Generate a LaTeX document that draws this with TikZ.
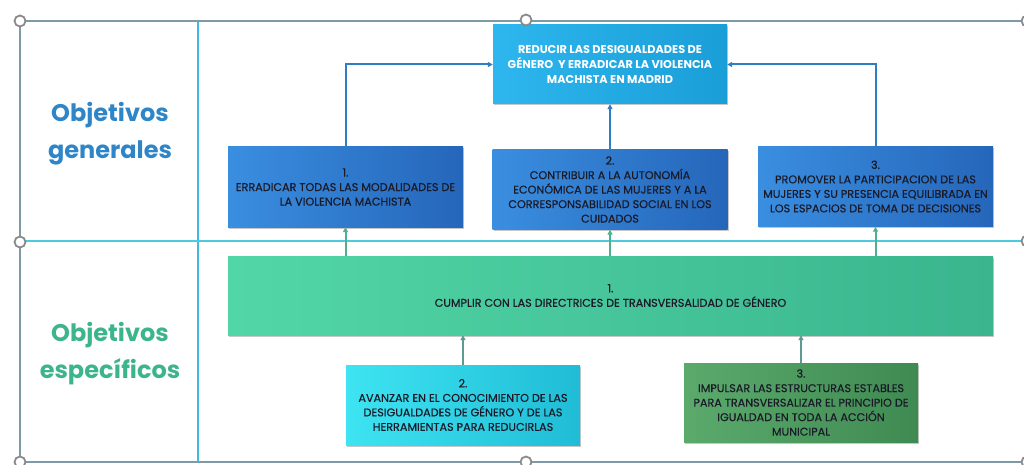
\documentclass[tikz,border=0pt]{standalone}
\usepackage{fontspec}
\setmainfont{Poppins}
\newfontfamily\boxfont[FakeBold=0.35]{Poppins}
\usetikzlibrary{arrows.meta,shadows,calc}
\definecolor{framegray}{HTML}{7E9AA6}
\definecolor{handlegray}{HTML}{8A8A8A}
\definecolor{sepblue}{HTML}{3FB8E4}
\definecolor{sepcyan}{HTML}{4CCBDD}
\definecolor{genlabel}{HTML}{2E86C8}
\definecolor{esplabel}{HTML}{3DB58C}
\definecolor{topL}{HTML}{2EB6EE}
\definecolor{topR}{HTML}{1A9ED8}
\definecolor{genL}{HTML}{3A8EE0}
\definecolor{genR}{HTML}{2566BA}
\definecolor{bigL}{HTML}{52D6A7}
\definecolor{bigR}{HTML}{3AB58D}
\definecolor{cyL}{HTML}{3EE4F2}
\definecolor{cyR}{HTML}{20BCD6}
\definecolor{dgL}{HTML}{5BAA6C}
\definecolor{dgR}{HTML}{3F8A52}
\definecolor{txt}{HTML}{1A1A28}
\definecolor{arrblue}{HTML}{2F7EC4}
\definecolor{arrgreen}{HTML}{4DB08E}
\definecolor{arrgray}{HTML}{5E9A94}
\tikzset{
  boxbase/.style={rectangle, inner sep=2pt, align=center, font=\boxfont\fontsize{11.2}{14.5}\selectfont,
    text=txt, drop shadow={shadow xshift=1.2pt, shadow yshift=-1.5pt, fill=black, opacity=0.22}},
  topbox/.style={boxbase, left color=topL, right color=topR, text=white, font=\bfseries\fontsize{11.3}{15}\selectfont,
    minimum width=234pt, minimum height=79pt},
  genbox/.style={boxbase, left color=genL, right color=genR, minimum width=235pt, minimum height=80pt},
  bigbox/.style={boxbase, left color=bigL, right color=bigR, minimum width=765pt, minimum height=79pt},
  cybox/.style={boxbase, left color=cyL, right color=cyR, minimum width=234pt, minimum height=80pt},
  dgbox/.style={boxbase, left color=dgL, right color=dgR, minimum width=234pt, minimum height=79pt},
  conn/.style={line width=2pt, -{Triangle[length=5pt,width=5pt]}},
  handle/.style={circle, draw=handlegray, fill=white, line width=1.8pt, minimum size=11pt, inner sep=0pt},
  lbl/.style={font=\bfseries\fontsize{24}{37}\selectfont, align=center}
}
\begin{document}
\begin{tikzpicture}[x=1pt,y=-1pt]
\useasboundingbox (0,0) rectangle (1024,465);
\fill[white] (0,0) rectangle (1024,465);
% table frame
\coordinate (tl) at (20,21);
\coordinate (tr) at (1026,21);
\coordinate (ml) at (20,241);
\coordinate (mr) at (1026,241);
\coordinate (bl) at (20,462);
\coordinate (br) at (1026,462);
\coordinate (vt) at (198,21);
\coordinate (vb) at (198,462);
\draw[framegray, line width=1.5pt] (tl) -- (tr);
\draw[framegray, line width=1.5pt] (bl) -- (br);
\draw[framegray, line width=1.5pt] (tl) -- (bl);
\draw[sepblue, line width=1.3pt] (vt) -- (vb);
\draw[sepcyan, line width=1.8pt] (ml) -- (mr);
% labels
\node[lbl, text=genlabel] (lg) at (110,134) {Objetivos\\generales};
\node[lbl, text=esplabel] (le) at (110,354) {Objetivos\\específicos};
% boxes
\node[topbox] (top) at (610,64.5) {REDUCIR LAS DESIGUALDADES DE\\GÉNERO \ Y ERRADICAR LA VIOLENCIA\\MACHISTA EN MADRID};
\node[genbox] (g1) at (345.5,187) {1.\\ERRADICAR TODAS LAS MODALIDADES DE\\LA VIOLENCIA MACHISTA};
\node[genbox] (g2) at (610,189.5) {2.\\CONTRIBUIR A LA AUTONOMÍA\\ECONÓMICA DE LAS MUJERES Y A LA\\CORRESPONSABILIDAD SOCIAL EN LOS\\CUIDADOS};
\node[genbox] (g3) at (875.5,186.5) {3.\\PROMOVER LA PARTICIPACION DE LAS\\MUJERES Y SU PRESENCIA EQUILIBRADA EN\\LOS ESPACIOS DE TOMA DE DECISIONES};
\node[bigbox] (big) at (610.5,295.5) {1.\\CUMPLIR CON LAS DIRECTRICES DE TRANSVERSALIDAD DE GÉNERO};
\node[cybox] (c2) at (463,405) {2.\\AVANZAR EN EL CONOCIMIENTO DE LAS\\DESIGUALDADES DE GÉNERO Y DE LAS\\HERRAMIENTAS PARA REDUCIRLAS};
\node[dgbox] (d3) at (801,402.5) {3.\\IMPULSAR LAS ESTRUCTURAS ESTABLES\\PARA TRANSVERSALIZAR EL PRINCIPIO DE\\IGUALDAD EN TODA LA ACCIÓN\\MUNICIPAL};
% connectors
\draw[conn, arrblue] (g1.north) |- (top.west);
\draw[conn, arrblue] (g3.north) |- (top.east);
\draw[conn, arrblue] (g2.north) -- (top.south);
\draw[conn, arrgreen] (g1.south |- big.north) -- (g1.south);
\draw[conn, arrgreen] (g2.south |- big.north) -- (g2.south);
\draw[conn, arrgreen] (g3.south |- big.north) -- (g3.south);
\draw[conn, arrgray] (c2.north) -- (c2.north |- big.south);
\draw[conn, arrgray] (d3.north) -- (d3.north |- big.south);
% selection handles
\node[handle] (h1) at (20,21) {};
\node[handle] (h2) at (526,20) {};
\node[handle] (h3) at (1027,21) {};
\node[handle] (h4) at (20,242) {};
\node[handle] (h5) at (1027,241) {};
\node[handle] (h6) at (20,462) {};
\node[handle] (h7) at (526,462) {};
\node[handle] (h8) at (1027,462) {};
\end{tikzpicture}
\end{document}
